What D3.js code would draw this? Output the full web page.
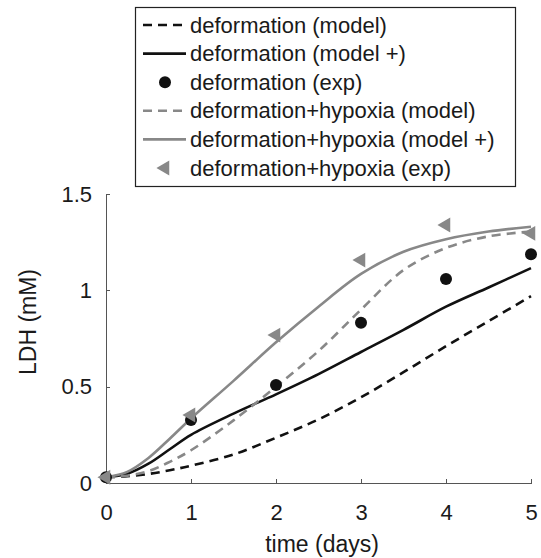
<!DOCTYPE html>
<html>
<head>
<meta charset="utf-8">
<title>LDH release</title>
<script src="https://d3js.org/d3.v7.min.js"></script>
<style>
 body { margin: 0; background: #fff; }
 text { font-family: "Liberation Sans", Arial, sans-serif; fill: #1a1a1a; }
 .axis path, .axis line { stroke: #555; shape-rendering: crispEdges; }
</style>
</head>
<body>
<div id="chart"></div>
<script>
// model curves (time in days, LDH in mM)
var modelTimes = [0, 0.25, 0.5, 0.75, 1, 1.5, 2, 2.5, 3, 3.5, 4, 4.5, 5];
var defModel     = [0.03, 0.035, 0.047, 0.066, 0.09, 0.148, 0.235, 0.33, 0.445, 0.575, 0.71, 0.84, 0.97];
var defModelPlus = [0.03, 0.048, 0.1, 0.175, 0.25, 0.36, 0.46, 0.565, 0.68, 0.795, 0.915, 1.015, 1.115];
var hypModel     = [0.03, 0.038, 0.062, 0.11, 0.17, 0.325, 0.5, 0.685, 0.9, 1.105, 1.22, 1.28, 1.305];
var hypModelPlus = [0.03, 0.058, 0.13, 0.23, 0.335, 0.53, 0.73, 0.915, 1.085, 1.2, 1.265, 1.305, 1.33];

// experiments
var expTimes = [0, 1, 2, 3, 4, 5];
var defExp = [0.03, 0.327, 0.509, 0.832, 1.059, 1.187];
var hypExp = [0.03, 0.353, 0.768, 1.157, 1.339, 1.296];

var xTicks = [0, 1, 2, 3, 4, 5];
var yTicks = [0, 0.5, 1, 1.5];

var legendLabels = ["deformation (model)", "deformation (model +)", "deformation (exp)",
  "deformation+hypoxia (model)", "deformation+hypoxia (model +)", "deformation+hypoxia (exp)"];

var W = 541, H = 558;
var black = "#111", grey = "#888";

var svg = d3.select("#chart").append("svg")
  .attr("width", W).attr("height", H);

var x = d3.scaleLinear().domain([0, 5]).range([106, 531]);
var y = d3.scaleLinear().domain([0, 1.5]).range([483, 194]);

// axes
svg.append("g")
  .attr("class", "axis")
  .attr("transform", "translate(0," + y(0) + ")")
  .call(d3.axisBottom(x).tickValues(xTicks).tickSize(-4).tickSizeOuter(0).tickPadding(21).tickFormat(d3.format("d")))
  .call(g => g.selectAll("text").attr("font-size", 22).attr("fill", "#1a1a1a").attr("font-family", null));

svg.append("g")
  .attr("class", "axis")
  .attr("transform", "translate(" + x(0) + ",0)")
  .call(d3.axisLeft(y).tickValues(yTicks).tickSize(-4).tickSizeOuter(0).tickPadding(14).tickFormat(d => d))
  .call(g => g.selectAll("text").attr("font-size", 22).attr("fill", "#1a1a1a").attr("font-family", null));

svg.append("text")
  .attr("x", 322).attr("y", 552)
  .attr("text-anchor", "middle").attr("font-size", 23)
  .text("time (days)");

svg.append("text")
  .attr("transform", "translate(36,322) rotate(-90)")
  .attr("text-anchor", "middle").attr("font-size", 23)
  .text("LDH (mM)");

// lines
var line = d3.line()
  .x((d, i) => x(modelTimes[i]))
  .y(d => y(d))
  .curve(d3.curveCatmullRom.alpha(0.5));

var series = [
  {vals: defModel, color: black, dash: "9,6"},
  {vals: defModelPlus, color: black, dash: null},
  {vals: hypModel, color: grey, dash: "9,6"},
  {vals: hypModelPlus, color: grey, dash: null}
];

series.forEach(function(s) {
  svg.append("path")
    .datum(s.vals)
    .attr("d", line)
    .attr("fill", "none")
    .attr("stroke", s.color)
    .attr("stroke-width", 2.6)
    .attr("stroke-dasharray", s.dash);
});

// points
svg.selectAll(".dot")
  .data(defExp)
  .enter().append("circle")
  .attr("class", "dot")
  .attr("cx", (d, i) => x(expTimes[i]))
  .attr("cy", d => y(d))
  .attr("r", 6)
  .attr("fill", black);

var tri = d3.symbol().type(d3.symbolTriangle).size(95);
svg.selectAll(".tri")
  .data(hypExp)
  .enter().append("path")
  .attr("class", "tri")
  .attr("d", tri)
  .attr("transform", (d, i) => "translate(" + x(expTimes[i]) + "," + y(d) + ") rotate(-90)")
  .attr("fill", grey);

// legend
var lg = svg.append("g");
lg.append("rect")
  .attr("x", 135.5).attr("y", 7.5)
  .attr("width", 380).attr("height", 179)
  .attr("fill", "#fff").attr("stroke", "#222").attr("stroke-width", 1.2);

var rowY = d3.range(6).map(i => 25 + 28.6 * i);
var legendKeys = [
  {type: "line", color: black, dash: "9,6"},
  {type: "line", color: black, dash: null},
  {type: "dot", color: black},
  {type: "line", color: grey, dash: "9,6"},
  {type: "line", color: grey, dash: null},
  {type: "tri", color: grey}
];

legendKeys.forEach(function(k, i) {
  var cy = rowY[i];
  if (k.type === "line") {
    lg.append("line")
      .attr("x1", 143).attr("x2", 186)
      .attr("y1", cy).attr("y2", cy)
      .attr("stroke", k.color).attr("stroke-width", 2.6)
      .attr("stroke-dasharray", k.dash);
  } else if (k.type === "dot") {
    lg.append("circle").attr("cx", 165).attr("cy", cy).attr("r", 6).attr("fill", k.color);
  } else {
    lg.append("path").attr("d", tri)
      .attr("transform", "translate(165," + cy + ") rotate(-90)")
      .attr("fill", k.color);
  }
  lg.append("text")
    .attr("x", 190).attr("y", cy + 7.5)
    .attr("font-size", 22)
    .text(legendLabels[i]);
});
</script>
</body>
</html>
